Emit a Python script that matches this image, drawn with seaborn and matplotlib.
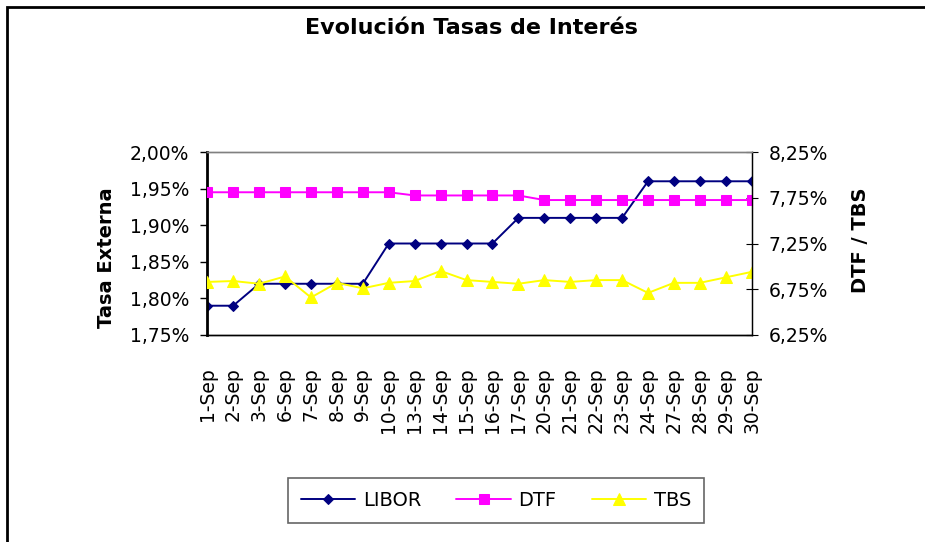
import pandas as pd
import matplotlib
matplotlib.use("Agg")
import matplotlib.pyplot as plt
from matplotlib.ticker import FuncFormatter, MultipleLocator
from matplotlib.patches import Rectangle
import seaborn as sns

# datos (tasas en %)
fechas = ["1-Sep", "2-Sep", "3-Sep", "6-Sep", "7-Sep", "8-Sep", "9-Sep", "10-Sep",
          "13-Sep", "14-Sep", "15-Sep", "16-Sep", "17-Sep", "20-Sep", "21-Sep",
          "22-Sep", "23-Sep", "24-Sep", "27-Sep", "28-Sep", "29-Sep", "30-Sep"]
libor = [1.79, 1.79, 1.82, 1.82, 1.82, 1.82, 1.82, 1.875, 1.875, 1.875, 1.875,
         1.875, 1.91, 1.91, 1.91, 1.91, 1.91, 1.96, 1.96, 1.96, 1.96, 1.96]
dtf = [7.81, 7.81, 7.81, 7.81, 7.81, 7.81, 7.81, 7.81, 7.775, 7.775, 7.775,
       7.775, 7.775, 7.725, 7.725, 7.725, 7.725, 7.725, 7.725, 7.725, 7.725, 7.725]
tbs = [6.83, 6.84, 6.81, 6.89, 6.66, 6.82, 6.76, 6.82, 6.84, 6.95, 6.85,
       6.83, 6.81, 6.85, 6.83, 6.85, 6.85, 6.71, 6.82, 6.82, 6.88, 6.94]
ticks_der = [6.25, 6.75, 7.25, 7.75, 8.25]

df = pd.DataFrame({"fecha": fechas, "LIBOR": libor, "DTF": dtf, "TBS": tbs})

sns.set_style("white")
plt.rcParams["font.family"] = ["DejaVu Sans"]
plt.rcParams["text.color"] = "black"
plt.rcParams["axes.labelcolor"] = "black"
plt.rcParams["xtick.color"] = "black"
plt.rcParams["ytick.color"] = "black"

fig = plt.figure(figsize=(9.25, 5.42), dpi=100)
ax = fig.add_axes([207 / 925, 1 - 335 / 542, (752 - 207) / 925, (335 - 152) / 542])
ax2 = ax.twinx()

sns.lineplot(data=df, x="fecha", y="LIBOR", ax=ax, sort=False, color="#000080",
             marker="D", markersize=5.3, markeredgecolor="#000080", linewidth=1.4, label="LIBOR")
sns.lineplot(data=df, x="fecha", y="DTF", ax=ax2, sort=False, color="#FF00FF",
             marker="s", markersize=6.5, markeredgecolor="#FF00FF", linewidth=1.4, label="DTF")
sns.lineplot(data=df, x="fecha", y="TBS", ax=ax2, sort=False, color="#FFFF00",
             marker="^", markersize=8.5, markeredgecolor="#FFFF00", linewidth=1.4, label="TBS")

pct = FuncFormatter(lambda v, p: f"{v:.2f}%".replace(".", ","))

ax.set_ylim(1.75, 2.00)
ax.yaxis.set_major_locator(MultipleLocator(0.05))
ax.yaxis.set_major_formatter(pct)
ax2.set_ylim(6.25, 8.25)
ax2.set_yticks(ticks_der)
ax2.yaxis.set_major_formatter(pct)
ax.set_xlim(-0.01, len(fechas) - 1 + 0.01)

ax.set_xlabel("")
ax.set_ylabel("Tasa Externa", fontsize=14, fontweight="bold")
ax2.set_ylabel("DTF / TBS", fontsize=14, fontweight="bold")
ax.yaxis.set_label_coords(-0.167, 0.4235)
ax2.yaxis.set_label_coords(1.1817, 0.516)

ax.tick_params(axis="y", labelsize=13.5, length=5, width=1, direction="out", left=True, pad=8)
ax2.tick_params(axis="y", labelsize=13.5, length=8, width=0.8, direction="inout", right=True, pad=8)
ax.tick_params(axis="x", labelsize=13.5, length=0, pad=23.5, rotation=90)

for a in (ax, ax2):
    for s in a.spines.values():
        s.set_visible(True)
    a.spines["top"].set_color("#808080")
    a.spines["top"].set_linewidth(1)
    a.spines["bottom"].set_color("black")
    a.spines["bottom"].set_linewidth(1)
ax.spines["left"].set_linewidth(2)
ax.spines["left"].set_color("black")
ax2.spines["left"].set_visible(False)
ax2.spines["right"].set_color("black")
ax2.spines["right"].set_linewidth(1)

# leyenda combinada
h1, l1 = ax.get_legend_handles_labels()
h2, l2 = ax2.get_legend_handles_labels()
ax.get_legend().remove()
ax2.get_legend().remove()
leg = fig.legend(h1 + h2, l1 + l2, loc="center", bbox_to_anchor=(496 / 925, 1 - 500.5 / 542),
                 ncol=3, fontsize=14, frameon=True, fancybox=False, edgecolor="#404040",
                 handlelength=2.8, handletextpad=0.4, columnspacing=1.8, borderpad=0.65)
leg.get_frame().set_linewidth(1.2)

fig.suptitle("Evolución Tasas de Interés", x=471 / 925, y=1 - 28 / 542, va="center",
             fontsize=16, fontweight="bold")

# marco del grafico
fig.patches.append(Rectangle((7 / 925, -0.1), 1.2, 1 - 7 / 542 + 0.1, transform=fig.transFigure,
                             fill=False, edgecolor="black", linewidth=2))

fig.savefig("out.png", dpi=100)
